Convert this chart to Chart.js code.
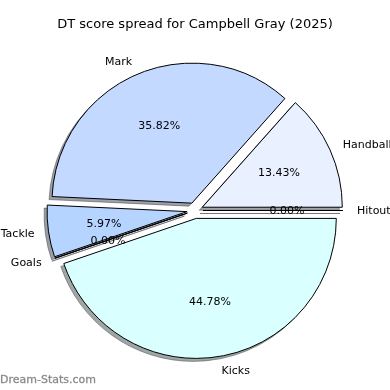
<!DOCTYPE html>
<html>
<head>
<meta charset="utf-8">
<script src="https://cdn.jsdelivr.net/npm/chart.js@4.4.1/dist/chart.umd.min.js"></script>
<style>
    html, body { margin: 0; padding: 0; background: #fff; }
    #wrap { width: 390px; height: 390px; position: relative; }
    #credit { position: absolute; left: 0; top: 373px; font: 11px "DejaVu Sans"; color: #8a8a8a; -webkit-text-stroke: 0.3px #8a8a8a; }
</style>
</head>
<body>
<div id="wrap">
    <canvas id="spreadChart" width="390" height="390"></canvas>
    <div id="credit">Dream-Stats.com</div>
</div>
<script>
// slices in matplotlib order (counter-clockwise from 3 o'clock)
const categories = ['Hitout', 'Handball', 'Mark', 'Tackle', 'Goals', 'Kicks']
const scores = [0, 9, 24, 4, 0, 30]
const sliceColours = ['#eef4ff', '#e9f0ff', '#c4d9ff', '#b5d4ff', '#d0e4ff', '#d9ffff']

const EXPLODE = 8
const SHADOW_DX = -3
const SHADOW_DY = 3

// chart.js goes clockwise, so feed it reversed
const drawnLabels = categories.slice().reverse()
const drawnScores = scores.slice().reverse()
const drawnColours = sliceColours.slice().reverse()
const total = scores.reduce((a, b) => a + b, 0)

function shadowOf(hex) {
    const n = parseInt(hex.slice(1), 16)
    const r = Math.round(((n >> 16) & 255) * 0.3)
    const g = Math.round(((n >> 8) & 255) * 0.3)
    const b = Math.round((n & 255) * 0.3)
    return 'rgba(' + r + ',' + g + ',' + b + ',0.5)'
}

function wedgeCentre(el) {
    const mid = (el.startAngle + el.endAngle) / 2
    return {mid, x: el.x + EXPLODE * Math.cos(mid), y: el.y + EXPLODE * Math.sin(mid)}
}

const mplPie = {
    id: 'mplPie',
    beforeDatasetDraw(chart, args) {
        const ctx = chart.ctx
        const arcs = args.meta.data
        const colours = chart.data.datasets[0].backgroundColor
        const path = (el, dx, dy) => {
            const c = wedgeCentre(el)
            ctx.beginPath()
            ctx.moveTo(c.x + dx, c.y + dy)
            ctx.arc(c.x + dx, c.y + dy, el.outerRadius, el.startAngle, el.endAngle)
            ctx.closePath()
        }
        ctx.save()
        ctx.lineWidth = 1
        ctx.lineJoin = 'miter'
        arcs.forEach((el, i) => {
            path(el, SHADOW_DX, SHADOW_DY)
            ctx.fillStyle = shadowOf(colours[i])
            ctx.strokeStyle = shadowOf(colours[i])
            ctx.fill()
            ctx.stroke()
        })
        arcs.forEach((el, i) => {
            path(el, 0, 0)
            ctx.fillStyle = colours[i]
            ctx.strokeStyle = '#000'
            ctx.fill()
            ctx.stroke()
        })
        ctx.restore()
        return false
    },
    afterDatasetsDraw(chart) {
        const ctx = chart.ctx
        const meta = chart.getDatasetMeta(0)
        const values = chart.data.datasets[0].data
        ctx.save()
        ctx.font = '11px "DejaVu Sans"'
        ctx.fillStyle = '#000'
        ctx.textBaseline = 'middle'
        meta.data.forEach((el, i) => {
            const c = wedgeCentre(el)
            const r = el.outerRadius
            const cos = Math.cos(c.mid), sin = Math.sin(c.mid)
            ctx.textAlign = cos > 0 ? 'left' : 'right'
            ctx.fillText(chart.data.labels[i], c.x + 1.1 * r * cos, c.y + 1.1 * r * sin + 0.5)
            ctx.textAlign = 'center'
            ctx.fillText((values[i] / total * 100).toFixed(2) + '%', c.x + 0.6 * r * cos, c.y + 0.6 * r * sin + 0.5)
        })
        ctx.restore()
    }
}

new Chart(document.getElementById('spreadChart').getContext('2d'), {
    type: 'pie',
    data: {
        labels: drawnLabels,
        datasets: [{
            data: drawnScores,
            backgroundColor: drawnColours,
            borderColor: '#000',
            borderWidth: 1,
        }],
    },
    options: {
        responsive: false,
        animation: false,
        events: [],
        rotation: 90,
        radius: 140,
        layout: {
            padding: {top: 0, bottom: 1.6, left: 0, right: 0},
        },
        plugins: {
            legend: {display: false},
            tooltip: {enabled: false},
            title: {
                display: true,
                text: 'DT score spread for Campbell Gray (2025)',
                color: '#000',
                font: {family: 'DejaVu Sans', size: 13, weight: 'normal'},
                padding: {top: 17, bottom: 0},
            },
        },
    },
    plugins: [mplPie],
})
</script>
</body>
</html>
